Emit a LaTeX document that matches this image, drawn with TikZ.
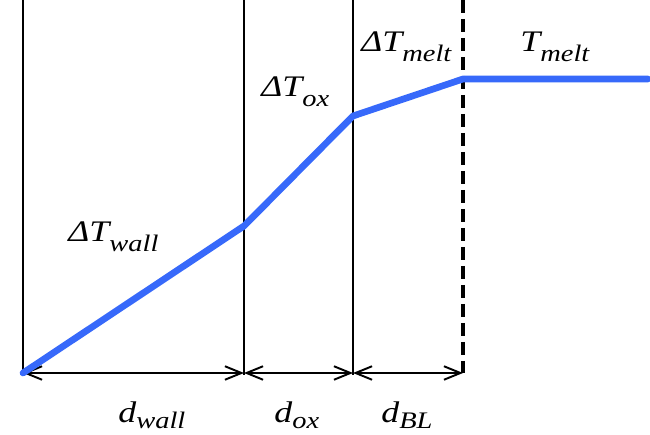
\documentclass[tikz,border=0pt]{standalone}
\usepackage{fontspec}
\setmainfont{Liberation Serif}
\usetikzlibrary{arrows.meta}

\definecolor{tempblue}{RGB}{55,105,250}
\newcommand{\lowsub}[2][5.5pt]{\raisebox{-#1}{\fontsize{13.5}{15}\selectfont #2}}

\begin{document}
\begin{tikzpicture}[
            x=0.02cm,
            y=-0.02cm,
            >={Straight Barb[length=0.33cm, width=0.27cm]},
            wall/.style={line width=1.5pt},
            lbl/.style={font=\fontsize{17}{20}\selectfont\itshape, xscale=1.2, inner sep=0pt, anchor=base west}
        ]

            % --- Frame ---
            \useasboundingbox (0,0) rectangle (650,435);

            % --- Definitions ---
            \def\ybot{373}

            % --- Coordinates ---
            \coordinate (W0) at (23,0);
            \coordinate (W1) at (244,0);
            \coordinate (W2) at (353,0);
            \coordinate (W3) at (463,0);

            \coordinate (B0) at (23,\ybot);
            \coordinate (B1) at (244,\ybot);
            \coordinate (B2) at (353,\ybot);
            \coordinate (B3) at (463,\ybot);

            \coordinate (P1) at (244,226);
            \coordinate (P2) at (353,116);
            \coordinate (P3) at (463,79);
            \coordinate (P4) at (648,79);

            % --- 1. Layer Boundaries ---
            \draw[wall] (W0) -- (B0);
            \draw[wall] (W1) -- ([yshift=-1pt]B1);
            \draw[wall] (W2) -- ([yshift=-1pt]B2);
            \draw[line width=2pt, dash pattern=on 0.26cm off 0.12cm] (W3) -- (B3);

            % --- 2. Thicknesses ---
            \draw[<->, line width=1.1pt] (B0) -- (B1);
            \draw[<->, line width=1.1pt] (B1) -- (B2);
            \draw[<->, line width=1.1pt] (B2) -- (B3);

            % --- 3. Temperature Profile ---
            \draw[tempblue, line width=3.8pt, line cap=round, line join=round] (B0) -- (P1) -- (P2) -- (P3) -- (P4);

            % --- 4. Labels ---
            \node[lbl] (dTwall) at (68,242) {ΔT\lowsub{wall}};
            \node[lbl] (dTox) at (261,97) {ΔT\lowsub{ox}};
            \node[lbl] (dTmelt) at (361,52) {ΔT\lowsub{melt}};
            \node[lbl] (Tmelt) at (520,52) {T\lowsub{melt}};

            \node[lbl] (dwall) at (118,423) {d\lowsub[3pt]{wall}};
            \node[lbl] (dox) at (274,423) {d\lowsub[3pt]{ox}};
            \node[lbl] (dBL) at (381,423) {d\lowsub[3pt]{BL}};

        \end{tikzpicture}
\end{document}
